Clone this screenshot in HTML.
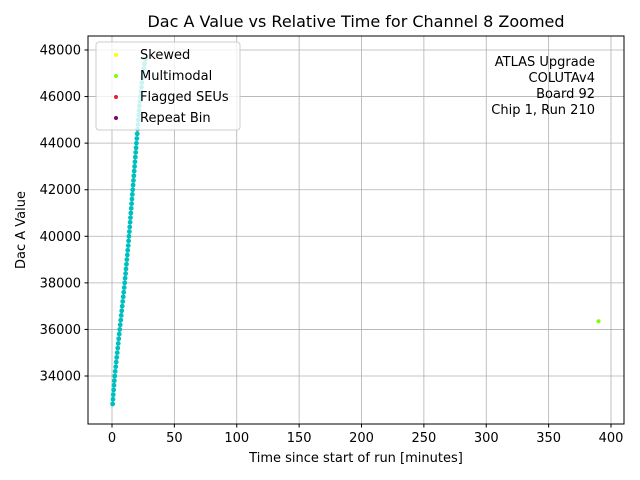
<!DOCTYPE html>
<html><head><meta charset="utf-8"><style>
body{margin:0;background:#fff}
svg{display:block;font-family:"DejaVu Sans","Liberation Sans",sans-serif}
</style></head><body>
<svg id="chart" width="640" height="480">
<rect width="640" height="480" fill="#fff"/>
<text x="356" y="27" font-size="16" text-anchor="middle">Dac A Value vs Relative Time for Channel 8 Zoomed</text>
<g id="grid"></g>
<g id="ticks"></g>
<g id="points"></g>
<rect x="88" y="36" width="536" height="388" fill="none" stroke="#000" stroke-width="1"/>
<text x="356" y="462" font-size="13" text-anchor="middle">Time since start of run [minutes]</text>
<text transform="translate(25,230) rotate(-90)" font-size="13" text-anchor="middle">Dac A Value</text>
<g>
<rect x="96" y="42" width="144" height="88" rx="3" fill="#fff" fill-opacity="0.8" stroke="#ccc"/>
<circle cx="116" cy="55" r="2" fill="#ffff00"/>
<text x="140" y="59" font-size="13">Skewed</text>
<circle cx="116" cy="76" r="2" fill="#80ff00"/>
<text x="140" y="80" font-size="13">Multimodal</text>
<circle cx="116" cy="97" r="2" fill="#e8202a"/>
<text x="140" y="101" font-size="13">Flagged SEUs</text>
<circle cx="116" cy="118" r="2" fill="#800080"/>
<text x="140" y="122" font-size="13">Repeat Bin</text>
</g>
<g font-size="13" text-anchor="end">
<text x="595" y="66">ATLAS Upgrade</text>
<text x="595" y="82">COLUTAv4</text>
<text x="595" y="98">Board 92</text>
<text x="595" y="114">Chip 1, Run 210</text>
</g>
</svg>
<script>
const xTicks=[0,50,100,150,200,250,300,350,400];
const yTicks=[34000,36000,38000,40000,42000,44000,46000,48000];
const times=[0.5,0.8,1.0,1.3,1.6,1.9,2.2,2.6,3.0,3.4,3.8,4.2,4.6,5.0,5.4,5.8,6.2,6.6,7.0,7.4,7.8,8.2,8.6,9.0,9.4,9.8,10.2,10.5,10.9,11.2,11.6,11.9,12.3,12.6,13.0,13.3,13.6,13.9,14.2,14.5,14.8,15.1,15.4,15.7,16.0,16.3,16.6,16.9,17.2,17.5,17.8,18.1,18.4,18.7,19.0,19.3,19.6,19.9,20.2,20.5,20.8,21.1,21.4,21.7,22.0,22.4,22.8,23.2,23.6,24.0,24.5,25.0,25.5,26.0,26.6];
const values=[32800,33000,33200,33400,33600,33800,34000,34200,34400,34600,34800,35000,35200,35400,35600,35800,36000,36200,36400,36600,36800,37000,37200,37400,37600,37800,38000,38200,38400,38600,38800,39000,39200,39400,39600,39800,40000,40200,40400,40600,40800,41000,41200,41400,41600,41800,42000,42200,42400,42600,42800,43000,43200,43400,43600,43800,44000,44200,44400,44600,44800,45000,45200,45400,45600,45800,46000,46200,46400,46600,46800,47000,47200,47400,47600];
const outlierTimes=[390];
const outlierValues=[36350];
const NS="http://www.w3.org/2000/svg";
function xs(t){return 112+t*(499/400);}
function ys(v){return 376-(v-34000)*(326/14000);}
function mk(tag,attrs,parent){const e=document.createElementNS(NS,tag);for(const k in attrs)e.setAttribute(k,attrs[k]);parent.appendChild(e);return e;}
const grid=document.getElementById('grid'),ticks=document.getElementById('ticks'),pts=document.getElementById('points');
xTicks.forEach(t=>{const x=xs(t);
 const g=mk('line',{x1:x,x2:x,y1:36,y2:424,stroke:'#b0b0b0','stroke-width':0.8},grid);
 
 
 mk('line',{x1:x,x2:x,y1:424,y2:427.5,stroke:'#000'},ticks);
 const l=mk('text',{x:x,y:442,'font-size':13,'text-anchor':'middle'},ticks);l.textContent=t;
 
 
});
yTicks.forEach(v=>{const y=ys(v);
 const g=mk('line',{x1:88,x2:624,y1:y,y2:y,stroke:'#b0b0b0','stroke-width':0.8},grid);
 
 
 mk('line',{x1:84.5,x2:88,y1:y,y2:y,stroke:'#000'},ticks);
 const l=mk('text',{x:81,y:y+4.5,'font-size':13,'text-anchor':'end'},ticks);l.textContent=v;
 
 
});
times.forEach((t,i)=>{
 const c=mk('circle',{cx:xs(t),cy:ys(values[i]),r:2.4,fill:'#00bfbf'},pts);
 
 
});
outlierTimes.forEach((t,i)=>{
 const c=mk('circle',{cx:xs(t),cy:ys(outlierValues[i]),r:2,fill:'#80ff00'},pts);
 
 
});
</script>
</body></html>
